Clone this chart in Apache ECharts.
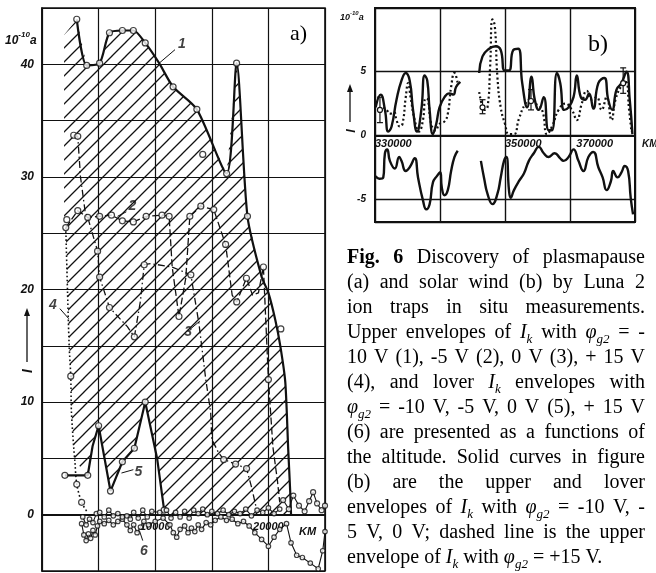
<!DOCTYPE html>
<html>
<head>
<meta charset="utf-8">
<script src="https://cdn.jsdelivr.net/npm/echarts@6/dist/echarts.min.js"></script>
<style>
  html, body { margin: 0; background: #fff; }
  #main { width: 656px; height: 573px; }
</style>
</head>
<body>
<div id="main"></div>
<script>
// ---- panel a) : altitude (km) vs current, 10^-10 A ----
const aKmTicks = [10000, 20000];
const aValTicks = [0, 10, 20, 30, 40];

const curve1 = [[3070,44.0],[3950,39.9],[5090,40.1],[5960,42.8],[7100,43.0],[8070,43.0],[9120,41.9],[10350,40.1],[11580,38.0],[13680,36.0],[16310,30.3],[17190,40.1],[18150,26.5],[19380,21.2],[20000,19.7],[20610,17.3],[21050,15.0],[21490,11.8],[21750,5.8],[21930,2.0],[22000,0]];
const curve1Dots = [[3070,44.0],[3950,39.9],[5090,40.1],[5960,42.8],[7100,43.0],[8070,43.0],[9120,41.9],[11580,38.0],[13680,36.0],[14200,32.0],[16310,30.3],[17190,40.1],[18150,26.5],[21100,16.5]];

const curve2 = [[2100,25.5],[3160,27.0],[4040,26.4],[5090,26.5],[6140,26.6],[7100,26.1],[8070,26.0],[9200,26.5],[10600,26.6],[11230,26.5],[11500,22.0],[12100,17.6],[12700,21.0],[13060,26.5],[14030,27.4],[15170,27.1],[16220,24.0],[16800,19.5],[17200,18.9],[18060,21.0],[18600,19.5],[19120,19.7],[19560,22.0],[20000,12.0],[20400,6.0],[20800,3.0],[21000,1.1]];
const curve2Dots = [[2190,26.2],[3160,27.0],[4040,26.4],[5090,26.5],[6140,26.6],[7100,26.1],[8070,26.0],[9200,26.5],[10600,26.6],[11230,26.5],[12100,17.6],[13060,26.5],[14030,27.4],[15170,27.1],[16220,24.0],[17200,18.9],[18060,21.0],[19560,22.0],[20000,12.0]];

const curve3 = [[2800,33.7],[3160,33.6],[3400,30.0],[3800,27.0],[4040,26.4],[4910,23.4],[5090,21.1],[5960,18.4],[7540,16.7],[8160,15.8],[8700,19.0],[9030,22.2],[9600,22.3],[11490,22.0],[13150,21.3],[13860,17.0],[14470,12.0],[14900,9.1],[15000,6.7],[15600,5.5],[16050,4.9],[17100,4.5],[18070,4.1],[18500,2.5],[18950,0.5]];
const curve3Dots = [[2800,33.7],[3160,33.6],[4910,23.4],[5090,21.1],[5960,18.4],[8160,15.8],[9030,22.2],[13150,21.3],[16050,4.9],[17100,4.5],[18070,4.1]];

const curve4 = [[2100,25.5],[2250,20.0],[2400,15.0],[2540,12.3],[2600,9.1],[2800,6.0],[2900,4.8],[3070,2.7],[3500,1.1],[3950,0.3]];
const curve4Dots = [[2100,25.5],[2540,12.3],[3070,2.7],[3500,1.1]];

const curve5 = [[2020,3.5],[4040,3.5],[4470,6.1],[5000,7.9],[6050,2.1],[7100,4.7],[8160,5.9],[9120,10.0],[10170,5.0],[10790,0.4],[11100,0.3]];
const curve5Dots = [[2020,3.5],[4040,3.5],[5000,7.9],[6050,2.1],[7100,4.7],[8160,5.9],[9120,10.0],[10790,0.4]];

const curve6 = [[3500,-0.8],[3700,-1.8],[3900,-2.3],[4100,-1.7],[4300,-2.1],[4500,-1.4],[4700,-1.8],[4900,-1.0],[5100,-0.6],[5500,-0.8],[5900,-0.5],[6300,-0.9],[6700,-0.6],[7100,-0.4],[7500,-0.9],[7800,-1.4],[8100,-0.9],[8400,-1.6],[8700,-1.1],[9000,-0.6],[9400,-0.9],[10000,-0.6],[10700,-0.3],[11300,-0.9],[11600,-1.6],[11900,-2.0],[12200,-1.3],[12600,-1.0],[12900,-1.6],[13200,-1.2],[13500,-1.5],[13800,-0.9],[14100,-1.3],[14500,-0.7],[14900,-0.9],[15300,-0.5],[15800,-0.2],[16300,-0.5],[16800,-0.4],[17300,-0.8],[17800,-0.6],[18300,-1.0],[18800,-1.6],[19400,-2.2],[20000,-2.8],[20500,-2.0],[21000,-1.3],[21600,-0.8],[22000,-2.5],[22500,-3.6],[23000,-3.8],[23700,-4.3],[24400,-4.8],[24800,-3.2],[25000,-1.5]];
const curve6Top = [[3600,-0.2],[3900,-0.9],[4200,-0.4],[4500,-0.7],[4800,0.1],[5100,0.2],[5500,-0.2],[5900,0.4],[6300,-0.1],[6700,0.1],[7100,-0.2],[7500,-0.1],[7800,-0.4],[8100,0.2],[8500,-0.3],[8900,0.4],[9300,-0.2],[9700,0.3],[10400,0.2],[11000,0.4],[11400,-0.3],[11800,0.2],[12200,-0.2],[12600,0.3],[13000,-0.3],[13400,0.4],[13800,0.1],[14200,0.5],[14600,0.0],[15000,0.3],[15500,0.1],[16000,0.4],[16500,0.0],[17000,0.3],[17500,0.1],[18000,0.5],[18500,-0.1],[19000,0.4],[19500,0.2],[20000,0.6],[20500,0.1],[21000,0.5]];
const tailDots = [[21300,1.3],[21800,0.5],[22200,1.7],[22700,0.8],[23200,0.3],[23600,1.2],[23950,2.0],[24300,1.0],[24700,0.4],[25000,0.8]];

// curve numbers and their leader lines (data units)
const tagText = ['1', '2', '3', '4', '5', '6'];
const tagAt = [[12350,41.8],[7980,27.4],[12900,16.2],[960,18.6],[8510,3.8],[9000,-3.2]];
const tagLead = [
  [[10350,40.1],[11750,41.3]],
  [[6670,26.5],[7450,26.9]],
  [[13240,16.6],[13950,17.2]],
  [[1580,18.3],[2370,17.4]],
  [[7020,3.7],[8070,4.0]],
  [[8600,-1.4],[8900,-2.3]]
];

// ---- panel b) : 330000 .. 370000 km ----
const bKmTicks = [330000, 350000, 370000];
const bValTicks = [-5, 0, 5];

const bUpper1 = [[330100,2.2],[330870,3.2],[331530,2.0],[332040,0.3],[332550,0.7],[333310,2.8],[334070,4.3],[334730,4.9],[335340,4.3],[335850,2.0],[336460,0.3],[337130,2.0],[337640,4.7],[338040,4.3],[338400,2.0],[338910,0.1],[339420,0.9],[339930,2.2],[340690,3.0],[341450,3.3],[342060,3.2],[342470,3.8],[343130,4.2]];
const bUpper2 = [[346030,4.9],[346540,6.2],[347560,6.8],[348580,7.0],[349340,6.7],[349950,5.1],[350610,5.1],[351280,6.7],[352040,6.8],[352650,4.1],[353410,2.2],[354080,4.6],[354580,2.8],[355200,2.0],[355960,3.0],[356720,0.4],[357230,0.4],[357990,4.9],[358500,4.1],[359110,2.0],[359780,2.2],[360540,3.0],[361050,4.7],[361660,3.0],[362320,2.8],[362930,3.3],[363590,2.1],[364360,4.1],[365270,4.5],[365880,2.8],[366490,2.0],[367160,3.6],[367920,4.1],[368680,5.0],[369190,2.8],[369600,0.1]];
const bDotted1 = [[331270,2.2],[331780,2.0],[332290,1.7],[332950,1.8],[333310,1.2],[333820,0.7],[334230,0.9],[334730,3.0],[335090,4.1],[335500,2.9],[336110,1.2],[336770,0.3],[337380,1.2],[337790,2.9],[338140,2.8],[338650,0.9],[339310,0.4],[339930,0.9],[340690,1.1],[341200,1.7],[341710,3.8],[342220,4.9],[342730,4.1]];
const bDotted2 = [[346030,3.4],[346440,2.4],[346800,2.0],[347310,2.2],[347710,5.4],[348070,9.1],[348430,8.6],[348830,4.6],[349340,2.2],[350000,0.9],[350610,0.1],[351380,0.1],[352140,1.3],[353160,2.5],[353920,2.8],[354690,2.5],[355700,2.0],[356470,0.1],[357230,0.7],[358250,2.0],[359270,2.5],[360290,2.0],[361050,1.2],[361810,2.5],[362580,3.5],[363340,2.8],[364100,3.0],[364870,2.0],[365630,3.0],[366390,1.2],[367000,2.8],[367920,3.9],[368580,4.2],[369090,2.0],[369450,0.3]];
const bLower1 = [[330100,-3.2],[330660,-3.4],[331270,-3.3],[331530,-1.4],[331880,-1.1],[332290,-2.0],[333050,-2.6],[333720,-1.7],[334070,-2.0],[334730,-2.8],[335340,-2.5],[336110,-1.8],[336620,-3.3],[337380,-5.1],[337890,-5.8],[338400,-5.4],[338910,-3.7],[339520,-3.2],[340030,-2.9],[340280,-4.1],[340690,-4.7],[341200,-4.3],[341710,-2.8],[342220,-1.7],[342730,-1.2]];
const bLower2 = [[346290,-2.0],[346800,-3.4],[347310,-4.6],[348070,-5.4],[348830,-4.6],[349340,-3.3],[349850,-2.0],[350210,-1.7],[350610,-4.3],[350870,-4.9],[351380,-4.3],[352140,-3.6],[352910,-3.0],[353670,-2.0],[354430,-1.4],[355200,-0.9],[355960,-1.4],[356720,-1.7],[357640,-1.4],[358500,-1.8],[359010,-2.0],[359780,-1.7],[360540,-1.1],[361300,-2.0],[362070,-2.8],[362830,-1.7],[363590,-1.3],[364360,-2.5],[365020,-3.3],[365630,-4.3],[366290,-3.6],[366650,-2.8],[367310,-3.3],[367920,-2.9],[368430,-2.4],[368940,-2.8],[369340,-4.9],[369700,-6.2]];
// [km, value, low, high]
const bErr = [[330760,2.0,1.0,3.0],[346540,2.2,1.7,2.8],[354000,2.7,2.0,3.6],[368180,4.1,3.3,5.3]];

const captionLines = [
  '{b|Fig.} {b|6} Discovery of plasmapause',
  '(a) and solar wind (b) by Luna 2',
  'ion traps in situ measurements.',
  'Upper envelopes of {i|I}{s|k} with {i|φ}{s|g2} = -',
  '10 V (1), -5 V (2), 0 V (3), + 15 V',
  '(4), and lover {i|I}{s|k} envelopes with',
  '{i|φ}{s|g2} = -10 V, -5 V, 0 V (5), + 15 V',
  '(6) are presented as a functions of',
  'the altitude. Solid curves in figure',
  '(b) are the upper and lover',
  'envelopes of {i|I}{s|k} with {i|φ}{s|g2} = -10 V, -',
  '5 V, 0 V; dashed line is the upper',
  'envelope of {i|I}{s|k} with {i|φ}{s|g2} = +15 V.'
];

// ---------------------------------------------------------------
const sans = '"Liberation Sans Narrow", "Liberation Sans", sans-serif';
const serif = '"Liberation Serif", serif';
const ink = '#111';

// hatch pattern for the shaded region
const hatch = document.createElement('canvas');
hatch.width = hatch.height = 14;
(() => {
  const g = hatch.getContext('2d');
  g.strokeStyle = ink;
  g.lineWidth = 1.3;
  g.beginPath();
  g.moveTo(-2, 16); g.lineTo(16, -2);
  g.moveTo(-2, 2); g.lineTo(2, -2);
  g.moveTo(12, 16); g.lineTo(16, 12);
  g.stroke();
})();

// outline: curve 1 on top, down to zero, back along curve 5, up along curve 4
const hatchOutline = [].concat(
  [[1950, 42.6]],
  curve1,
  [[11100, 0]],
  curve5.slice(1).reverse(),
  curve4.slice(0, 7).reverse(),
  [[1950, 25.5]]
);

const tickFont = { fontFamily: sans, fontStyle: 'italic', fontWeight: 'bold', color: ink };

function lineS(data, opt) {
  return Object.assign({
    type: 'line', data: data, xAxisIndex: 0, yAxisIndex: 0,
    showSymbol: false, symbol: 'none', silent: true,
    lineStyle: { color: ink, width: 2 }
  }, opt);
}
function dots(data, size) {
  return {
    type: 'scatter', data: data, xAxisIndex: 0, yAxisIndex: 0, silent: true, z: 4,
    symbol: 'circle', symbolSize: size || 6,
    itemStyle: { color: '#fff', borderColor: ink, borderWidth: 1.2 }
  };
}

const chart = echarts.init(document.getElementById('main'));

// justified caption, one text element per word
const meas = document.createElement('canvas').getContext('2d');
const capSize = 20;
const capRich = {
  b: { fontFamily: serif, fontSize: capSize, fontWeight: 'bold', lineHeight: 26 },
  i: { fontFamily: serif, fontSize: capSize, fontStyle: 'italic', lineHeight: 26 },
  s: { fontFamily: serif, fontSize: 13, fontStyle: 'italic', verticalAlign: 'bottom', lineHeight: 13 }
};
const capFontOf = { '': capSize + 'px ' + serif, b: 'bold ' + capSize + 'px ' + serif, i: 'italic ' + capSize + 'px ' + serif, s: 'italic 13px ' + serif };
function wordWidth(w) {
  const re = /\{(\w)\|([^}]*)\}|([^{]+)/g;
  let m, sum = 0;
  while ((m = re.exec(w))) {
    const k = m[3] !== undefined ? '' : m[1];
    meas.font = capFontOf[k];
    sum += meas.measureText(m[3] !== undefined ? m[3] : m[2]).width;
  }
  return sum;
}
const capLeft = 347, capRight = 645, capTop = 258, capStep = 25;
const captionEls = [];
captionLines.forEach((line, li) => {
  const words = line.split(' ');
  const widths = words.map(wordWidth);
  const total = widths.reduce((a, b) => a + b, 0);
  meas.font = capFontOf[''];
  let gap = meas.measureText(' ').width;
  if (li < captionLines.length - 1 && words.length > 1) gap = (capRight - capLeft - total) / (words.length - 1);
  let x = capLeft;
  words.forEach((w, wi) => {
    captionEls.push({
      type: 'text', x: x, y: capTop + li * capStep, silent: true,
      style: { text: w, rich: capRich, fontFamily: serif, fontSize: capSize, lineHeight: 26, fill: '#000', align: 'left', verticalAlign: 'middle' }
    });
    x += widths[wi] + gap;
  });
});

function arrow(x, yTail, yHead) {
  return [
    { type: 'line', silent: true, shape: { x1: x, y1: yTail, x2: x, y2: yHead + 5 }, style: { stroke: ink, lineWidth: 1.3 } },
    { type: 'polygon', silent: true, shape: { points: [[x, yHead], [x - 3, yHead + 8], [x + 3, yHead + 8]] }, style: { fill: ink } }
  ];
}

const option = {
  animation: false,
  backgroundColor: '#fff',
  grid: [
    { left: 42, top: 8, width: 283, height: 563, containLabel: false, outerBoundsMode: 'none', show: true, borderColor: ink, borderWidth: 1.6, backgroundColor: 'transparent' },
    { left: 375, top: 8, width: 260, height: 214, containLabel: false, outerBoundsMode: 'none', show: true, borderColor: ink, borderWidth: 2, backgroundColor: 'transparent' }
  ],
  xAxis: [
    {
      // axis line placed on the zero level (563 * 5/50 above the bottom edge)
      gridIndex: 0, type: 'value', min: 0, max: 25000, interval: 5000,
      position: 'bottom', offset: -56.3,
      axisLine: { onZero: false, lineStyle: { color: ink, width: 2.2 } },
      axisTick: { show: false },
      axisLabel: Object.assign({ fontSize: 11, margin: 7, formatter: v => aKmTicks.includes(v) ? String(v) : '' }, tickFont),
      splitLine: { show: true, lineStyle: { color: ink, width: 1.2 } },
      name: 'KM', nameLocation: 'end', nameGap: -26,
      nameTextStyle: Object.assign({ fontSize: 11, verticalAlign: 'top', align: 'left', padding: [12, 0, 0, 0] }, tickFont)
    },
    {
      // axis line placed on the zero level (214 * 6.8/16.8 above the bottom edge)
      gridIndex: 1, type: 'value', min: 330000, max: 370000, interval: 10000,
      position: 'bottom', offset: -86.6,
      axisLine: { onZero: false, lineStyle: { color: ink, width: 2 } },
      axisTick: { show: false },
      axisLabel: Object.assign({ fontSize: 11, margin: 3, align: 'left', alignMaxLabel: 'right', padding: [0, 22, 0, 0],
        formatter: v => bKmTicks.includes(v) ? String(v) : '' }, tickFont),
      splitLine: { show: true, lineStyle: { color: ink, width: 1.4 } },
      name: 'KM', nameLocation: 'end', nameGap: 7,
      nameTextStyle: Object.assign({ fontSize: 10, verticalAlign: 'top', align: 'left', padding: [4, 0, 0, 0] }, tickFont)
    }
  ],
  yAxis: [
    {
      gridIndex: 0, type: 'value', min: -5, max: 45, interval: 5,
      axisLine: { show: true, lineStyle: { color: ink, width: 1.6 } },
      axisTick: { show: false },
      axisLabel: Object.assign({ fontSize: 12, margin: 8, formatter: v => aValTicks.includes(v) ? String(v) : '' }, tickFont),
      splitLine: { show: true, lineStyle: { color: ink, width: 1.2 } }
    },
    {
      gridIndex: 1, type: 'value', min: -6.8, max: 10, splitNumber: 3,
      axisLine: { show: true, lineStyle: { color: ink, width: 2 } },
      axisTick: { show: false },
      axisLabel: Object.assign({ fontSize: 10, margin: 9, formatter: v => bValTicks.includes(v) ? String(v) : '' }, tickFont),
      splitLine: { show: true, lineStyle: { color: ink, width: 1.4 } }
    }
  ],
  series: [
    {
      type: 'custom', xAxisIndex: 0, yAxisIndex: 0, silent: true, z: 1,
      data: [[0, 0]],
      renderItem: (params, api) => ({
        type: 'polygon',
        shape: { points: hatchOutline.map(p => api.coord(p)) },
        style: { fill: { image: hatch, repeat: 'repeat' }, stroke: null }
      })
    },
    lineS(curve1, { smooth: 0.25, lineStyle: { color: ink, width: 2.2 } }),
    dots(curve1Dots),
    lineS(curve2, { lineStyle: { color: ink, width: 1.3, type: [7, 3] } }),
    dots(curve2Dots),
    lineS(curve3, { lineStyle: { color: ink, width: 1.3, type: [7, 3, 1.5, 3] } }),
    dots(curve3Dots),
    lineS(curve4, { smooth: 0.3, lineStyle: { color: ink, width: 1.6, type: [1.6, 2.4] } }),
    dots(curve4Dots),
    lineS(curve5, { lineStyle: { color: ink, width: 2.2 } }),
    dots(curve5Dots),
    lineS(curve6, { z: 3, lineStyle: { color: ink, width: 1.1 } }),
    dots(curve6, 4.5),
    lineS(curve6Top, { z: 3, lineStyle: { color: ink, width: 1.1 } }),
    dots(curve6Top, 4.5),
    lineS(tailDots, { z: 3, lineStyle: { color: ink, width: 1.1 } }),
    dots(tailDots, 5),
    {
      type: 'scatter', xAxisIndex: 0, yAxisIndex: 0, silent: true, z: 6,
      data: tagAt.map((p, i) => [p[0], p[1], tagText[i]]),
      symbolSize: 1, itemStyle: { color: 'transparent' },
      label: { show: true, position: 'inside', formatter: p => p.value[2], fontSize: 14, fontFamily: sans, fontStyle: 'italic', fontWeight: 'bold', color: ink },
      markLine: {
        silent: true, symbol: 'none', label: { show: false },
        lineStyle: { color: ink, width: 1, type: 'solid' },
        data: tagLead.map(l => [{ coord: l[0] }, { coord: l[1] }])
      }
    },
    // panel b
    { type: 'line', xAxisIndex: 1, yAxisIndex: 1, data: bDotted1, smooth: 0.5, symbol: 'none', silent: true, lineStyle: { color: ink, width: 2.2, type: [2, 2.6] } },
    { type: 'line', xAxisIndex: 1, yAxisIndex: 1, data: bDotted2, smooth: 0.5, symbol: 'none', silent: true, lineStyle: { color: ink, width: 2.2, type: [2, 2.6] } },
    { type: 'line', xAxisIndex: 1, yAxisIndex: 1, data: bUpper1, smooth: 0.5, symbol: 'none', silent: true, lineStyle: { color: ink, width: 2.4 } },
    { type: 'line', xAxisIndex: 1, yAxisIndex: 1, data: bUpper2, smooth: 0.5, symbol: 'none', silent: true, lineStyle: { color: ink, width: 2.4 } },
    { type: 'line', xAxisIndex: 1, yAxisIndex: 1, data: bLower1, smooth: 0.5, symbol: 'none', silent: true, lineStyle: { color: ink, width: 2.4 } },
    { type: 'line', xAxisIndex: 1, yAxisIndex: 1, data: bLower2, smooth: 0.5, symbol: 'none', silent: true, lineStyle: { color: ink, width: 2.4 } },
    {
      type: 'custom', xAxisIndex: 1, yAxisIndex: 1, silent: true, z: 5,
      data: bErr,
      renderItem: (params, api) => {
        const x = api.value(0);
        const p = api.coord([x, api.value(1)]);
        const lo = api.coord([x, api.value(2)]);
        const hi = api.coord([x, api.value(3)]);
        const st = { stroke: ink, lineWidth: 1.2 };
        return {
          type: 'group', children: [
            { type: 'line', shape: { x1: lo[0], y1: lo[1], x2: hi[0], y2: hi[1] }, style: st },
            { type: 'line', shape: { x1: lo[0] - 3, y1: lo[1], x2: lo[0] + 3, y2: lo[1] }, style: st },
            { type: 'line', shape: { x1: hi[0] - 3, y1: hi[1], x2: hi[0] + 3, y2: hi[1] }, style: st },
            { type: 'circle', shape: { cx: p[0], cy: p[1], r: 2.5 }, style: { fill: '#fff', stroke: ink, lineWidth: 1.2 } }
          ]
        };
      }
    }
  ],
  graphic: [].concat(
    [
      { type: 'text', x: 290, y: 34, silent: true, style: { text: 'a)', fontFamily: serif, fontSize: 22, fill: '#000', verticalAlign: 'middle' } },
      { type: 'text', x: 588, y: 45, silent: true, style: { text: 'b)', fontFamily: serif, fontSize: 24, fill: '#000', verticalAlign: 'middle' } },
      {
        type: 'text', x: 5, y: 39, silent: true,
        style: {
          text: '{n|10}{p|-10}{n|a}', verticalAlign: 'middle',
          rich: {
            n: { fontFamily: sans, fontSize: 12, fontStyle: 'italic', fontWeight: 'bold', fill: ink, lineHeight: 16, verticalAlign: 'bottom' },
            p: { fontFamily: sans, fontSize: 8, fontStyle: 'italic', fontWeight: 'bold', fill: ink, lineHeight: 8, verticalAlign: 'top' }
          }
        }
      },
      {
        type: 'text', x: 340, y: 16, silent: true,
        style: {
          text: '{n|10}{p|-10}{n|a}', verticalAlign: 'middle',
          rich: {
            n: { fontFamily: sans, fontSize: 9, fontStyle: 'italic', fontWeight: 'bold', fill: ink, lineHeight: 12, verticalAlign: 'bottom' },
            p: { fontFamily: sans, fontSize: 6, fontStyle: 'italic', fontWeight: 'bold', fill: ink, lineHeight: 6, verticalAlign: 'top' }
          }
        }
      },
      { type: 'text', x: 28, y: 371, rotation: Math.PI / 2, silent: true, style: { text: 'I', fontFamily: sans, fontSize: 14, fontStyle: 'italic', fontWeight: 'bold', fill: ink, align: 'center', verticalAlign: 'middle' } },
      { type: 'text', x: 351, y: 131, rotation: Math.PI / 2, silent: true, style: { text: 'I', fontFamily: sans, fontSize: 13, fontStyle: 'italic', fontWeight: 'bold', fill: ink, align: 'center', verticalAlign: 'middle' } }
    ],
    arrow(27, 362, 308),
    arrow(350, 122, 84),
    captionEls
  )
};

chart.setOption(option);
</script>
</body>
</html>
